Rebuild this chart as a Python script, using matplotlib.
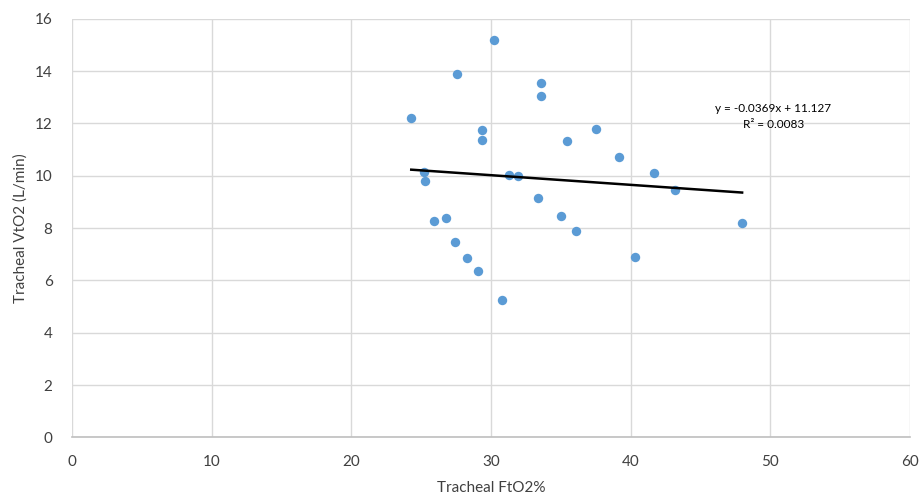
import numpy as np
import matplotlib.pyplot as plt

# tracheal FtO2 (%) vs tracheal VtO2 (L/min)
fto2 = [30.19, 27.58, 33.57, 33.57, 24.29, 29.33, 29.33, 35.41, 37.51,
        39.16, 41.68, 25.20, 25.29, 31.28, 31.90, 43.16, 33.38, 34.98,
        25.91, 26.80, 47.98, 36.08, 27.39, 40.28, 28.30, 29.09, 30.80]
vto2 = [15.19, 13.89, 13.53, 13.06, 12.19, 11.75, 11.36, 11.33, 11.77,
        10.73, 10.12, 10.13, 9.81, 10.03, 10.00, 9.44, 9.14, 8.47,
        8.27, 8.37, 8.20, 7.90, 7.48, 6.89, 6.84, 6.36, 5.25]

# linear trendline as reported
slope = -0.0369
intercept = 11.127
r2 = 0.0083

plt.rcParams['font.family'] = ['Lato', 'DejaVu Sans']

fig = plt.figure(figsize=(9.21, 4.97), dpi=100)
ax = fig.add_axes([72 / 921, 1 - 437.4 / 497, (910 - 72) / 921, (437.4 - 18.7) / 497])

ax.scatter(fto2, vto2, s=46, color='#5B9BD5', zorder=3, linewidths=0)

xl = np.array([min(fto2), max(fto2)])
ax.plot(xl, slope * xl + intercept, color='black', lw=1.8, zorder=4)

ax.text(50.2, 12.55, f'y = {slope}x + {intercept}', ha='center', va='center', fontsize=8.5)
ax.text(50.2, 11.94, f'R² = {r2}', ha='center', va='center', fontsize=8.5)

ax.set_xlim(0, 60)
ax.set_ylim(0, 16)
ax.set_xticks(range(0, 61, 10))
ax.set_yticks(range(0, 17, 2))
ax.grid(True, color='#D9D9D9', lw=1)
ax.set_axisbelow(True)
for s in ['top', 'right', 'left']:
    ax.spines[s].set_visible(False)
ax.spines['bottom'].set_color('#BFBFBF')
ax.spines['bottom'].set_linewidth(1.2)
ax.tick_params(length=0, labelsize=11, colors='#404040', pad=13)
ax.tick_params(axis='y', pad=14)

ax.set_xlabel('Tracheal FtO2%', fontsize=11, color='#404040', labelpad=8)
ax.set_ylabel('Tracheal VtO2 (L/min)', fontsize=11, color='#404040', labelpad=5)

fig.savefig('out.png', dpi=100)
